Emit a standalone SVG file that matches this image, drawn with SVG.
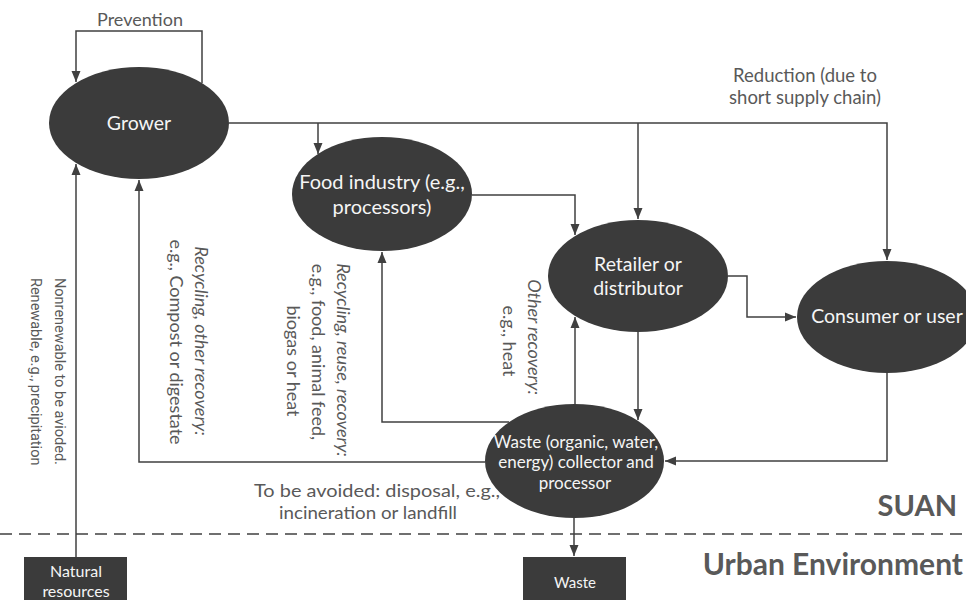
<svg xmlns="http://www.w3.org/2000/svg" width="966" height="600" viewBox="0 0 966 600">
<defs>
<style>
.node{fill:#3b3b3b;}
.nt{font-family:Lato,"Liberation Sans",sans-serif;font-size:19.5px;fill:#f5f5f5;text-anchor:middle;}
.lbl{font-family:Lato,"Liberation Sans",sans-serif;font-size:18px;fill:#595959;text-anchor:middle;}
.rot{font-family:Lato,"Liberation Sans",sans-serif;font-size:18px;fill:#595959;text-anchor:middle;}
.rr{font-family:Roboto,"Liberation Sans",sans-serif;font-size:14.5px;fill:#595959;text-anchor:start;}
.it{font-style:italic;}
.big{font-family:Lato,"Liberation Sans",sans-serif;font-weight:bold;fill:#595959;text-anchor:end;}
.ln{fill:none;stroke:#404040;stroke-width:1.5;}
</style>
<marker id="ah" markerUnits="userSpaceOnUse" markerWidth="12" markerHeight="12" viewBox="0 0 12 12" refX="11" refY="6" orient="auto">
<path d="M0,1.5 L11,6 L0,10.5 Z" fill="#404040"/>
</marker>
</defs>
<rect width="966" height="600" fill="#ffffff"/>

<g id="connectors">
<path class="ln" d="M202,83 V31 H76 V82" marker-end="url(#ah)"/>
<path class="ln" d="M229,123 H887 V260" marker-end="url(#ah)"/>
<path class="ln" d="M318,123 V154" marker-end="url(#ah)"/>
<path class="ln" d="M638,123 V219" marker-end="url(#ah)"/>
<path class="ln" d="M472,195 H575 V235" marker-end="url(#ah)"/>
<path class="ln" d="M728,276 H747 V317 H796" marker-end="url(#ah)"/>
<path class="ln" d="M638,332 V420" marker-end="url(#ah)"/>
<path class="ln" d="M887,373 V461 H665" marker-end="url(#ah)"/>
<path class="ln" d="M575,404 V317" marker-end="url(#ah)"/>
<path class="ln" d="M509,422 H382 V252" marker-end="url(#ah)"/>
<path class="ln" d="M485,462 H139 V180" marker-end="url(#ah)"/>
<path class="ln" d="M76,557 V164" marker-end="url(#ah)"/>
<path class="ln" d="M574,518 V556" marker-end="url(#ah)"/>
<line x1="0" y1="534" x2="966" y2="534" stroke="#404040" stroke-width="1.5" stroke-dasharray="12 7"/>
</g>

<g id="grower">
<ellipse class="node" cx="139" cy="123" rx="90" ry="56"/>
<text class="nt" x="139" y="130">Grower</text>
</g>
<g id="food-industry">
<ellipse class="node" cx="382" cy="194" rx="90" ry="57"/>
<text class="nt" x="382" y="189" style="font-size:20px">Food industry (e.g.,</text>
<text class="nt" x="382" y="214" style="font-size:20px">processors)</text>
</g>
<g id="retailer">
<ellipse class="node" cx="638" cy="276" rx="90" ry="56"/>
<text class="nt" x="638" y="271">Retailer or</text>
<text class="nt" x="638" y="295">distributor</text>
</g>
<g id="consumer">
<ellipse class="node" cx="887" cy="317" rx="90" ry="56"/>
<text class="nt" x="887" y="323">Consumer or user</text>
</g>
<g id="waste-collector">
<ellipse class="node" cx="574.5" cy="461" rx="89.5" ry="57"/>
<text class="nt" x="576" y="448" style="font-size:17px">Waste (organic, water,</text>
<text class="nt" x="576" y="468" style="font-size:17px">energy) collector and</text>
<text class="nt" x="575" y="489" style="font-size:17px">processor</text>
</g>
<g id="natural-resources">
<rect class="node" x="24" y="557" width="103" height="50"/>
<text class="nt" x="76" y="577" style="font-size:16px">Natural</text>
<text class="nt" x="76" y="597" style="font-size:16px">resources</text>
</g>
<g id="waste">
<rect class="node" x="523" y="557" width="103" height="50"/>
<text class="nt" x="575" y="588" style="font-size:15px">Waste</text>
</g>

<g id="labels">
<text class="lbl" x="140" y="26">Prevention</text>
<text class="lbl" x="805" y="82" style="font-size:18.5px">Reduction (due to</text>
<text class="lbl" x="805" y="104" style="font-size:18.5px">short supply chain)</text>
<text class="lbl" x="377" y="497" textLength="246" lengthAdjust="spacingAndGlyphs">To be avoided: disposal, e.g.,</text>
<text class="lbl" x="368" y="519" textLength="178" lengthAdjust="spacingAndGlyphs">incineration or landfill</text>
<text class="big" x="957" y="516" style="font-size:29px">SUAN</text>
<text class="big" x="963" y="575" style="font-size:30px">Urban Environment</text>

<text class="rr" transform="translate(55,278) rotate(90)">Nonrenewable to be avioded.</text>
<text class="rr" transform="translate(31,278) rotate(90)">Renewable, e.g., precipitation</text>

<text class="rot it" transform="translate(195,341) rotate(90)">Recycling, other recovery:</text>
<text class="rot" transform="translate(170,342) rotate(90)">e.g., Compost or digestate</text>

<text class="rot it" transform="translate(337,360) rotate(90)">Recycling, reuse, recovery:</text>
<text class="rot" transform="translate(312,352) rotate(90)">e.g., food, animal feed,</text>
<text class="rot" transform="translate(287,361) rotate(90)">biogas or heat</text>

<text class="rot it" transform="translate(528,337) rotate(90)">Other recovery:</text>
<text class="rot" transform="translate(503,341) rotate(90)">e.g., heat</text>
</g>
</svg>
